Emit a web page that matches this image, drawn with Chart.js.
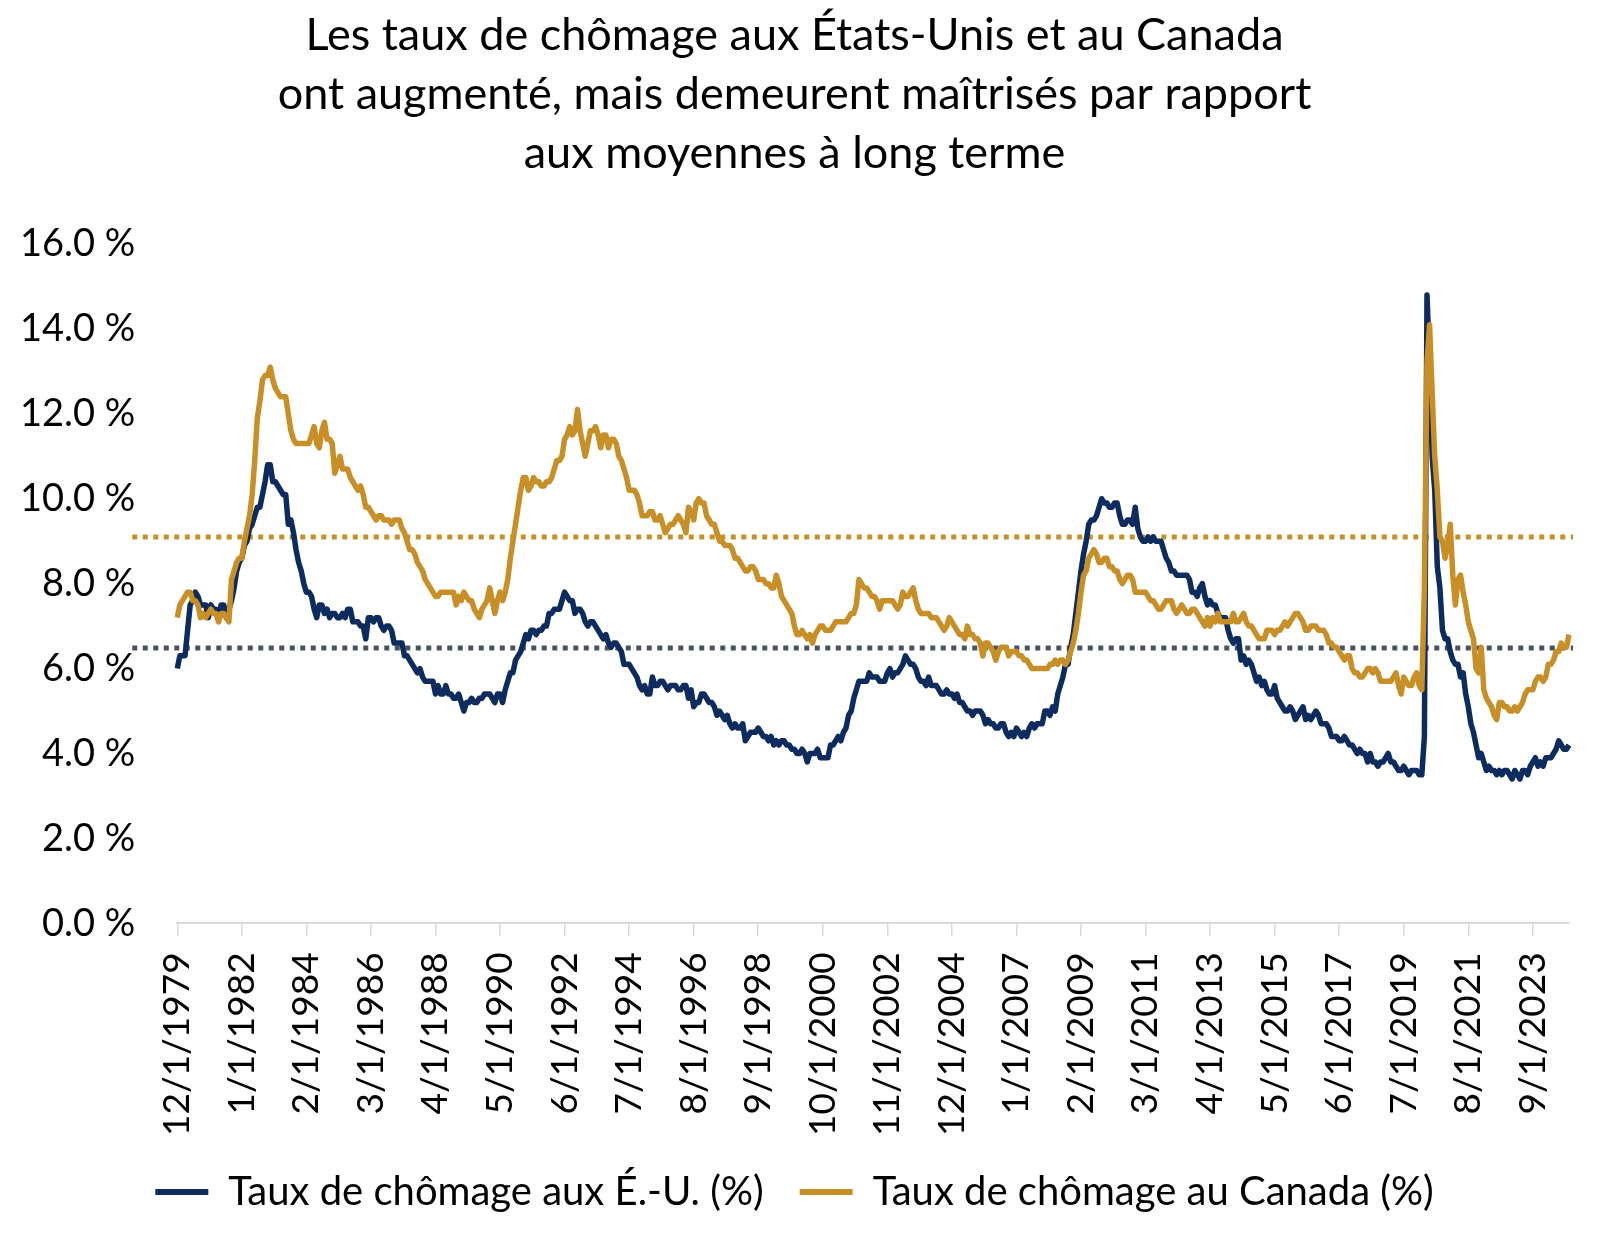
<!DOCTYPE html>
<html lang="fr">
<head>
<meta charset="utf-8">
<title>Taux de chômage É.-U. et Canada</title>
<script src="https://cdn.jsdelivr.net/npm/chart.js@4/dist/chart.umd.min.js"></script>
<style>
  html, body { margin: 0; padding: 0; background: #fff; }
  #wrap { width: 1600px; height: 1239px; }
</style>
</head>
<body>
<div id="wrap"><canvas id="chomageChart" width="1600" height="1239"></canvas></div>
<script>
// monthly data, 12/1979 -> 11/2024
const startYear = 1979;
const startMonth = 12;

const usRate = [
  6.0,
  6.3, 6.3, 6.3, 6.9, 7.5, 7.6, 7.8, 7.7, 7.5, 7.5, 7.5, 7.2,       // 1980
  7.5, 7.4, 7.4, 7.2, 7.5, 7.5, 7.2, 7.4, 7.6, 7.9, 8.3, 8.5,       // 1981
  8.6, 8.9, 9.0, 9.3, 9.4, 9.6, 9.8, 9.8, 10.1, 10.4, 10.8, 10.8,   // 1982
  10.4, 10.4, 10.3, 10.2, 10.1, 10.1, 9.4, 9.5, 9.2, 8.8, 8.5, 8.3, // 1983
  8.0, 7.8, 7.8, 7.7, 7.4, 7.2, 7.5, 7.5, 7.3, 7.4, 7.2, 7.3,       // 1984
  7.3, 7.2, 7.2, 7.3, 7.2, 7.4, 7.4, 7.1, 7.1, 7.1, 7.0, 7.0,       // 1985
  6.7, 7.2, 7.2, 7.1, 7.2, 7.2, 7.0, 6.9, 7.0, 7.0, 6.9, 6.6,       // 1986
  6.6, 6.6, 6.6, 6.3, 6.3, 6.2, 6.1, 6.0, 5.9, 6.0, 5.8, 5.7,       // 1987
  5.7, 5.7, 5.7, 5.4, 5.6, 5.4, 5.4, 5.6, 5.4, 5.4, 5.3, 5.3,       // 1988
  5.4, 5.2, 5.0, 5.2, 5.2, 5.3, 5.2, 5.2, 5.3, 5.3, 5.4, 5.4,       // 1989
  5.4, 5.3, 5.2, 5.4, 5.4, 5.2, 5.5, 5.7, 5.9, 5.9, 6.2, 6.3,       // 1990
  6.4, 6.6, 6.8, 6.7, 6.9, 6.9, 6.8, 6.9, 6.9, 7.0, 7.0, 7.3,       // 1991
  7.3, 7.4, 7.4, 7.4, 7.6, 7.8, 7.7, 7.6, 7.6, 7.3, 7.4, 7.4,       // 1992
  7.3, 7.1, 7.0, 7.1, 7.1, 7.0, 6.9, 6.8, 6.7, 6.8, 6.6, 6.5,       // 1993
  6.6, 6.6, 6.5, 6.4, 6.1, 6.1, 6.1, 6.0, 5.9, 5.8, 5.6, 5.5,       // 1994
  5.6, 5.4, 5.4, 5.8, 5.6, 5.6, 5.7, 5.7, 5.6, 5.5, 5.6, 5.6,       // 1995
  5.6, 5.5, 5.5, 5.6, 5.6, 5.3, 5.5, 5.1, 5.2, 5.2, 5.4, 5.4,       // 1996
  5.3, 5.2, 5.2, 5.1, 4.9, 5.0, 4.9, 4.8, 4.9, 4.7, 4.6, 4.7,       // 1997
  4.6, 4.6, 4.7, 4.3, 4.4, 4.5, 4.5, 4.5, 4.6, 4.5, 4.4, 4.4,       // 1998
  4.3, 4.4, 4.2, 4.3, 4.2, 4.3, 4.3, 4.2, 4.2, 4.1, 4.1, 4.0,       // 1999
  4.0, 4.1, 4.0, 3.8, 4.0, 4.0, 4.0, 4.1, 3.9, 3.9, 3.9, 3.9,       // 2000
  4.2, 4.2, 4.3, 4.4, 4.3, 4.5, 4.6, 4.9, 5.0, 5.3, 5.5, 5.7,       // 2001
  5.7, 5.7, 5.7, 5.9, 5.8, 5.8, 5.8, 5.7, 5.7, 5.7, 5.9, 6.0,       // 2002
  5.8, 5.9, 5.9, 6.0, 6.1, 6.3, 6.2, 6.1, 6.1, 6.0, 5.8, 5.7,       // 2003
  5.7, 5.6, 5.8, 5.6, 5.6, 5.6, 5.5, 5.4, 5.4, 5.5, 5.4, 5.4,       // 2004
  5.3, 5.4, 5.2, 5.2, 5.1, 5.0, 5.0, 4.9, 5.0, 5.0, 5.0, 4.9,       // 2005
  4.7, 4.8, 4.7, 4.7, 4.6, 4.6, 4.7, 4.7, 4.5, 4.4, 4.5, 4.4,       // 2006
  4.6, 4.5, 4.4, 4.5, 4.4, 4.6, 4.7, 4.6, 4.7, 4.7, 4.7, 5.0,       // 2007
  5.0, 4.9, 5.1, 5.0, 5.4, 5.6, 5.8, 6.1, 6.1, 6.5, 6.8, 7.3,       // 2008
  7.8, 8.3, 8.7, 9.0, 9.4, 9.5, 9.5, 9.6, 9.8, 10.0, 9.9, 9.9,      // 2009
  9.8, 9.8, 9.9, 9.9, 9.6, 9.4, 9.4, 9.5, 9.5, 9.4, 9.8, 9.3,       // 2010
  9.1, 9.0, 9.0, 9.1, 9.0, 9.1, 9.0, 9.0, 9.0, 8.8, 8.6, 8.5,       // 2011
  8.3, 8.3, 8.2, 8.2, 8.2, 8.2, 8.2, 8.1, 7.8, 7.8, 7.7, 7.9,       // 2012
  8.0, 7.7, 7.5, 7.6, 7.5, 7.5, 7.3, 7.2, 7.2, 7.2, 6.9, 6.7,       // 2013
  6.6, 6.7, 6.7, 6.2, 6.3, 6.1, 6.2, 6.1, 5.9, 5.7, 5.8, 5.6,       // 2014
  5.7, 5.5, 5.4, 5.4, 5.6, 5.3, 5.2, 5.1, 5.0, 5.0, 5.1, 5.0,       // 2015
  4.8, 4.9, 5.0, 5.1, 4.8, 4.9, 4.8, 4.9, 5.0, 4.9, 4.7, 4.7,       // 2016
  4.7, 4.6, 4.4, 4.4, 4.4, 4.3, 4.3, 4.4, 4.3, 4.2, 4.2, 4.1,       // 2017
  4.0, 4.1, 4.0, 4.0, 3.8, 4.0, 3.8, 3.8, 3.7, 3.8, 3.8, 3.9,       // 2018
  4.0, 3.8, 3.8, 3.7, 3.6, 3.6, 3.7, 3.6, 3.5, 3.6, 3.6, 3.6,       // 2019
  3.5, 3.5, 4.4, 14.8, 13.2, 11.0, 10.2, 8.4, 7.9, 6.9, 6.7, 6.7,   // 2020
  6.4, 6.2, 6.1, 6.1, 5.8, 5.9, 5.4, 5.1, 4.7, 4.5, 4.2, 3.9,       // 2021
  4.0, 3.8, 3.6, 3.7, 3.6, 3.6, 3.5, 3.6, 3.5, 3.6, 3.6, 3.5,       // 2022
  3.4, 3.6, 3.5, 3.4, 3.6, 3.6, 3.5, 3.7, 3.8, 3.9, 3.7, 3.8,       // 2023
  3.7, 3.9, 3.9, 3.9, 4.0, 4.1, 4.3, 4.2, 4.1, 4.1, 4.2             // 2024
];

const canadaRate = [
  7.2,
  7.5, 7.6, 7.7, 7.8, 7.8, 7.6, 7.6, 7.5, 7.2, 7.3, 7.2, 7.3,             // 1980
  7.4, 7.3, 7.3, 7.1, 7.3, 7.3, 7.2, 7.1, 8.1, 8.3, 8.5, 8.6,             // 1981
  8.6, 9.0, 9.3, 9.6, 10.1, 10.9, 11.9, 12.3, 12.8, 12.9, 12.9, 13.1,     // 1982
  12.8, 12.6, 12.5, 12.4, 12.4, 12.4, 12.0, 11.6, 11.4, 11.3, 11.3, 11.3, // 1983
  11.3, 11.3, 11.3, 11.5, 11.7, 11.3, 11.2, 11.6, 11.8, 11.4, 11.4, 11.3, // 1984
  10.6, 10.8, 11.0, 10.7, 10.7, 10.7, 10.5, 10.4, 10.3, 10.2, 10.3, 10.1, // 1985
  9.8, 9.8, 9.7, 9.6, 9.5, 9.6, 9.6, 9.5, 9.5, 9.5, 9.4, 9.5,             // 1986
  9.5, 9.5, 9.3, 9.2, 9.0, 8.8, 8.8, 8.7, 8.5, 8.4, 8.3, 8.1,             // 1987
  8.0, 7.9, 7.8, 7.7, 7.7, 7.8, 7.8, 7.8, 7.8, 7.8, 7.8, 7.5,             // 1988
  7.7, 7.6, 7.8, 7.7, 7.6, 7.6, 7.4, 7.3, 7.2, 7.4, 7.5, 7.6,             // 1989
  7.9, 7.6, 7.3, 7.6, 7.8, 7.6, 7.8, 8.1, 8.6, 9.0, 9.4, 9.8,             // 1990
  10.2, 10.5, 10.5, 10.2, 10.3, 10.5, 10.4, 10.4, 10.3, 10.3, 10.4, 10.4, // 1991
  10.5, 10.7, 10.9, 10.9, 11.0, 11.4, 11.5, 11.7, 11.5, 11.6, 12.1, 11.6, // 1992
  11.3, 11.0, 11.3, 11.6, 11.6, 11.7, 11.5, 11.2, 11.5, 11.5, 11.2, 11.4, // 1993
  11.4, 11.3, 11.0, 10.9, 10.7, 10.5, 10.2, 10.2, 10.2, 10.1, 9.9, 9.6,   // 1994
  9.6, 9.6, 9.7, 9.7, 9.5, 9.5, 9.6, 9.4, 9.2, 9.3, 9.4, 9.4,             // 1995
  9.5, 9.6, 9.5, 9.4, 9.2, 9.8, 9.7, 9.5, 9.9, 10.0, 9.9, 9.9,            // 1996
  9.6, 9.5, 9.4, 9.4, 9.2, 9.0, 9.0, 8.9, 8.9, 8.9, 8.8, 8.6,             // 1997
  8.6, 8.5, 8.4, 8.3, 8.3, 8.4, 8.4, 8.3, 8.1, 8.1, 8.1, 8.0,             // 1998
  8.0, 7.9, 7.9, 8.2, 8.0, 7.7, 7.6, 7.5, 7.4, 7.3, 7.0, 6.8,             // 1999
  6.8, 6.9, 6.8, 6.7, 6.8, 6.6, 6.8, 6.9, 7.0, 7.0, 6.9, 6.9,             // 2000
  6.9, 7.0, 7.1, 7.1, 7.1, 7.1, 7.1, 7.2, 7.3, 7.3, 7.5, 8.1,             // 2001
  8.0, 7.9, 7.9, 7.8, 7.7, 7.7, 7.6, 7.4, 7.6, 7.6, 7.6, 7.6,             // 2002
  7.6, 7.5, 7.4, 7.5, 7.8, 7.7, 7.7, 7.8, 7.9, 7.6, 7.4, 7.3,             // 2003
  7.3, 7.3, 7.3, 7.2, 7.2, 7.2, 7.1, 7.0, 6.9, 7.0, 7.2, 7.1,             // 2004
  7.0, 6.9, 6.8, 6.8, 6.7, 7.0, 6.8, 6.8, 6.7, 6.7, 6.6, 6.3,             // 2005
  6.6, 6.6, 6.5, 6.4, 6.2, 6.4, 6.5, 6.5, 6.5, 6.3, 6.4, 6.4,             // 2006
  6.4, 6.3, 6.3, 6.2, 6.2, 6.1, 6.0, 6.0, 6.0, 6.0, 6.0, 6.0,             // 2007
  6.0, 6.1, 6.1, 6.2, 6.1, 6.2, 6.2, 6.1, 6.2, 6.4, 6.6, 6.9,             // 2008
  7.3, 7.8, 8.2, 8.3, 8.6, 8.7, 8.8, 8.7, 8.5, 8.5, 8.6, 8.6,             // 2009
  8.4, 8.4, 8.3, 8.3, 8.1, 8.0, 8.1, 8.2, 8.2, 8.1, 7.8, 7.8,             // 2010
  7.8, 7.8, 7.8, 7.7, 7.6, 7.6, 7.5, 7.4, 7.4, 7.5, 7.6, 7.6,             // 2011
  7.6, 7.4, 7.3, 7.4, 7.5, 7.4, 7.3, 7.3, 7.4, 7.4, 7.3, 7.2,             // 2012
  7.1, 7.0, 7.2, 7.0, 7.2, 7.1, 7.3, 7.1, 7.1, 7.1, 7.1, 7.1,             // 2013
  7.3, 7.1, 7.1, 7.2, 7.3, 7.1, 7.0, 7.0, 6.9, 6.8, 6.7, 6.7,             // 2014
  6.7, 6.9, 6.9, 6.9, 6.8, 6.9, 6.9, 7.0, 7.1, 7.0, 7.1, 7.2,             // 2015
  7.3, 7.3, 7.2, 7.1, 6.9, 6.9, 7.0, 7.0, 7.0, 6.9, 6.9, 6.9,             // 2016
  6.8, 6.6, 6.6, 6.5, 6.5, 6.4, 6.3, 6.2, 6.3, 6.3, 6.0, 5.9,             // 2017
  5.9, 5.8, 5.8, 5.9, 6.0, 6.0, 5.9, 6.0, 5.9, 5.7, 5.7, 5.7,             // 2018
  5.7, 5.7, 5.8, 5.9, 5.6, 5.4, 5.8, 5.7, 5.6, 5.6, 5.8, 5.9,             // 2019
  5.6, 5.5, 7.9, 13.2, 14.1, 12.5, 11.0, 10.2, 9.1, 9.0, 8.6, 8.9,        // 2020
  9.4, 8.2, 7.5, 8.1, 8.2, 7.8, 7.5, 7.1, 6.9, 6.7, 6.0, 5.9,             // 2021
  6.5, 5.5, 5.3, 5.2, 5.1, 4.9, 4.8, 5.2, 5.2, 5.1, 5.1, 5.0,             // 2022
  5.0, 5.1, 5.0, 5.1, 5.2, 5.4, 5.5, 5.5, 5.5, 5.7, 5.8, 5.8,             // 2023
  5.7, 5.8, 6.1, 6.1, 6.2, 6.4, 6.4, 6.6, 6.5, 6.5, 6.8                   // 2024
];

// long-term averages (dotted lines)
const canadaAvg = 9.1;
const usAvg = 6.48;

const tickEvery = 25;
const tickLabels = [
  '12/1/1979', '1/1/1982', '2/1/1984', '3/1/1986', '4/1/1988', '5/1/1990',
  '6/1/1992', '7/1/1994', '8/1/1996', '9/1/1998', '10/1/2000', '11/1/2002',
  '12/1/2004', '1/1/2007', '2/1/2009', '3/1/2011', '4/1/2013', '5/1/2015',
  '6/1/2017', '7/1/2019', '8/1/2021', '9/1/2023'
];

const titleLines = [
  'Les taux de chômage aux États-Unis et au Canada',
  'ont augmenté, mais demeurent maîtrisés par rapport',
  'aux moyennes à long terme'
];

const usLabel = 'Taux de chômage aux É.-U. (%)';
const canadaLabel = 'Taux de chômage au Canada (%)';

const navy = '#0c2b5f';
const gold = '#c98f27';
const slate = '#4a5366';

// one category per month
const months = usRate.map((_, i) => {
  const k = startMonth - 1 + i;
  return (k % 12 + 1) + '/1/' + (startYear + Math.floor(k / 12));
});

const avgLines = {
  id: 'avgLines',
  beforeDatasetsDraw(chart) {
    const { ctx, chartArea, scales } = chart;
    ctx.save();
    ctx.lineWidth = 5;
    ctx.setLineDash([5, 5.5]);
    [[canadaAvg, gold], [usAvg, slate]].forEach(([v, c]) => {
      const py = Math.round(scales.y.getPixelForValue(v));
      ctx.strokeStyle = c;
      ctx.beginPath();
      ctx.moveTo(chartArea.left - 45, py);
      ctx.lineTo(chartArea.right + 4, py);
      ctx.stroke();
    });
    ctx.restore();
  }
};

Chart.defaults.color = '#000';

const ctx = document.getElementById('chomageChart').getContext('2d');
const chart = new Chart(ctx, {
  type: 'line',
  data: {
    labels: months,
    datasets: [
      {
        label: usLabel,
        data: usRate,
        borderColor: navy,
        backgroundColor: navy,
        borderWidth: 5.5,
        borderJoinStyle: 'round',
        pointRadius: 0,
        fill: false,
        order: 1
      },
      {
        label: canadaLabel,
        data: canadaRate,
        borderColor: gold,
        backgroundColor: gold,
        borderWidth: 5.5,
        borderJoinStyle: 'round',
        pointRadius: 0,
        fill: false,
        order: 0
      }
    ]
  },
  options: {
    responsive: false,
    animation: false,
    devicePixelRatio: 1,
    layout: { padding: { left: 20, right: 31, top: 0, bottom: 17 } },
    plugins: {
      tooltip: { enabled: false },
      title: {
        display: true,
        text: titleLines,
        color: '#000',
        font: { family: 'Lato', size: 45, weight: 'normal', lineHeight: 1.311 },
        padding: { top: 6, bottom: 61 }
      },
      legend: {
        position: 'bottom',
        labels: {
          font: { family: 'Lato', size: 40 },
          color: '#000',
          boxWidth: 53,
          boxHeight: 6,
          padding: 36,
          sort: (a, b) => a.datasetIndex - b.datasetIndex,
          generateLabels(ch) {
            return Chart.defaults.plugins.legend.labels.generateLabels(ch).map(item => {
              item.fillStyle = item.strokeStyle;
              item.lineWidth = 0;
              return item;
            });
          }
        }
      }
    },
    scales: {
      x: {
        offset: false,
        grid: {
          display: true,
          drawOnChartArea: false,
          drawTicks: true,
          tickLength: 13,
          color: '#d9d9d9',
          lineWidth: 1.5
        },
        border: { display: true, color: '#d9d9d9', width: 2 },
        // no empty band under the rotated labels
        afterFit: scale => { scale.height -= scale.options.ticks.padding; },
        ticks: {
          autoSkip: false,
          maxRotation: 90,
          minRotation: 90,
          padding: 16,
          font: { family: 'Lato', size: 37 },
          callback: (value, index) => index % tickEvery === 0 ? tickLabels[index / tickEvery] : null
        }
      },
      y: {
        min: 0,
        max: 16,
        grid: { display: false, drawTicks: false },
        border: { display: false },
        // labels sit 42px from the plot, no extra gap on their left
        afterFit: scale => { scale.width -= scale.options.ticks.padding; },
        ticks: {
          stepSize: 2,
          padding: 42,
          font: { family: 'Lato', size: 38 },
          callback: v => v.toFixed(1) + ' %'
        }
      }
    }
  },
  plugins: [avgLines]
});
</script>
</body>
</html>
